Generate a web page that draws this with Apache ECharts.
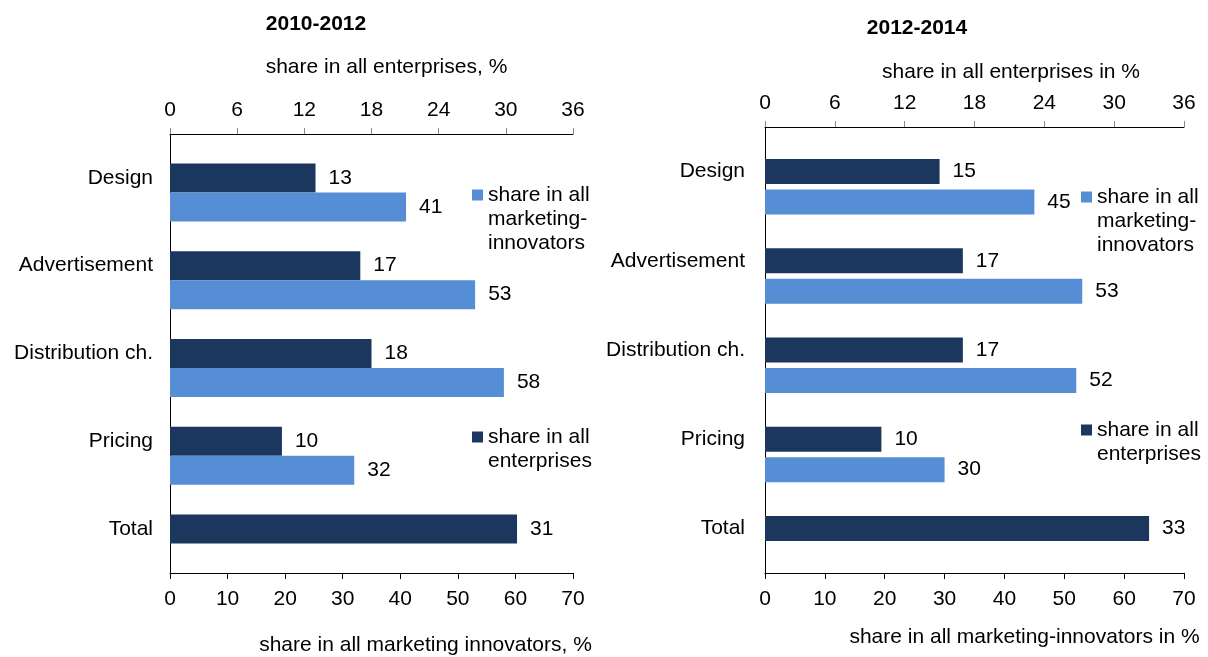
<!DOCTYPE html>
<html>
<head>
<meta charset="utf-8">
<script src="https://cdn.jsdelivr.net/npm/echarts@6/dist/echarts.min.js"></script>
<style>
  html, body { margin: 0; padding: 0; background: #fff; }
  #main { width: 1208px; height: 657px; }
</style>
</head>
<body>
<div id="main"></div>
<script>
var categories = ['Design', 'Advertisement', 'Distribution ch.', 'Pricing', 'Total'];
var enterprises2012 = [13, 17, 18, 10, 31];
var innovators2012 = [41, 53, 58, 32, '-'];
var enterprises2014 = [15, 17, 17, 10, 33];
var innovators2014 = [45, 53, 52, 30, '-'];
var topTicks = [0, 6, 12, 18, 24, 30, 36];
var bottomTicks = [0, 10, 20, 30, 40, 50, 60, 70];

var FONT = "'Liberation Sans', Arial, sans-serif";
var DARK = '#1b375e';
var LIGHT = '#558ed5';
var NAME_ENT = 'share in all enterprises';
var NAME_INN = 'share in all marketing-innovators';

var myChart;
document.addEventListener("DOMContentLoaded", function() {
    initChart();
});

function topAxis(grid, name, gap, pad) {
    return {
        type: 'value', gridIndex: grid, position: 'top',
        min: topTicks[0], max: topTicks[topTicks.length - 1], interval: 6,
        name: name, nameLocation: 'middle', nameGap: gap,
        nameTextStyle: { fontFamily: FONT, fontSize: 21, color: '#000', padding: [0, 0, 0, pad] },
        axisLine: { show: true, lineStyle: { color: '#000', width: 1 } },
        axisTick: { show: true, inside: false, length: 6, lineStyle: { color: '#888' } },
        axisLabel: { fontFamily: FONT, fontSize: 21, color: '#000', margin: 13 },
        splitLine: { show: false }
    };
}

function bottomAxis(grid, name, gap, pad) {
    return {
        type: 'value', gridIndex: grid, position: 'bottom',
        min: bottomTicks[0], max: bottomTicks[bottomTicks.length - 1], interval: 10,
        name: name, nameLocation: 'middle', nameGap: gap,
        nameTextStyle: { fontFamily: FONT, fontSize: 21, color: '#000', padding: [0, 0, 0, pad] },
        axisLine: { show: true, lineStyle: { color: '#000', width: 1 } },
        axisTick: { show: true, inside: false, length: 6, lineStyle: { color: '#000' } },
        axisLabel: { fontFamily: FONT, fontSize: 21, color: '#000', margin: 16 },
        splitLine: { show: false }
    };
}

function catAxis(grid, margin) {
    return {
        type: 'category', gridIndex: grid, inverse: true, data: categories,
        axisLine: { show: true, lineStyle: { color: '#000', width: 1 } },
        axisTick: { show: false },
        axisLabel: { fontFamily: FONT, fontSize: 21, color: '#000', margin: margin }
    };
}

function barLabel() {
    return { show: true, position: 'right', distance: 13, fontFamily: FONT, fontSize: 21, color: '#000' };
}

function panelSeries(xTop, xBottom, yIdx, ent, inn, width, gap) {
    return [{
        name: 'pad', type: 'bar', xAxisIndex: xBottom, yAxisIndex: yIdx,
        data: categories.map(function() { return '-'; }),
        barWidth: width, barGap: gap, silent: true
    }, {
        name: NAME_ENT, type: 'bar', xAxisIndex: xTop, yAxisIndex: yIdx,
        data: ent, barWidth: width, barGap: gap,
        itemStyle: { color: DARK }, label: barLabel()
    }, {
        name: NAME_INN, type: 'bar', xAxisIndex: xBottom, yAxisIndex: yIdx,
        data: inn, barWidth: width, barGap: gap,
        itemStyle: { color: LIGHT }, label: barLabel()
    }];
}

// legend text is centred on the icon, so empty lines on top put the icon beside the first line
function legendBox(name, left, iconY, lines) {
    var blanks = [];
    for (var i = 1; i < lines.length; i++) blanks.push('');
    var full = blanks.concat(lines).join('\n');
    var total = lines.length * 2 - 1;
    return {
        data: [name], left: left, top: iconY - total * 12, padding: 0, orient: 'vertical',
        icon: 'rect', itemWidth: 11, itemHeight: 11,
        selectedMode: false,
        formatter: function() { return full; },
        textStyle: { fontFamily: FONT, fontSize: 21, color: '#000', lineHeight: 24 }
    };
}

function initChart() {
    myChart = echarts.init(document.getElementById('main'));
    var option = {
        animation: false,
        backgroundColor: '#fff',
        title: [{
            text: '2010-2012', left: 311, top: 9, textAlign: 'center',
            textStyle: { fontFamily: FONT, fontSize: 21, fontWeight: 'bold', color: '#000' }
        }, {
            text: '2012-2014', left: 912, top: 13, textAlign: 'center',
            textStyle: { fontFamily: FONT, fontSize: 21, fontWeight: 'bold', color: '#000' }
        }],
        legend: [
            legendBox(NAME_INN, 472, 195, ['share in all', 'marketing-', 'innovators']),
            legendBox(NAME_ENT, 472, 437, ['share in all', 'enterprises']),
            legendBox(NAME_INN, 1081, 197, ['share in all', 'marketing-', 'innovators']),
            legendBox(NAME_ENT, 1081, 430, ['share in all', 'enterprises'])
        ],
        grid: [
            { left: 170, top: 134, width: 403, height: 439, outerBoundsMode: 'none' },
            { left: 765, top: 127, width: 419, height: 446, outerBoundsMode: 'none' }
        ],
        xAxis: [
            topAxis(0, 'share in all enterprises, %', 56, 30),
            bottomAxis(0, 'share in all marketing innovators, %', 62, 108),
            topAxis(1, 'share in all enterprises in %', 44, 73),
            bottomAxis(1, 'share in all marketing-innovators in %', 54, 100)
        ],
        yAxis: [catAxis(0, 17), catAxis(1, 20)],
        series: panelSeries(0, 1, 0, enterprises2012, innovators2012, 29, '0%')
            .concat(panelSeries(2, 3, 1, enterprises2014, innovators2014, 25, '22%'))
    };
    myChart.setOption(option);
}
</script>
</body>
</html>
